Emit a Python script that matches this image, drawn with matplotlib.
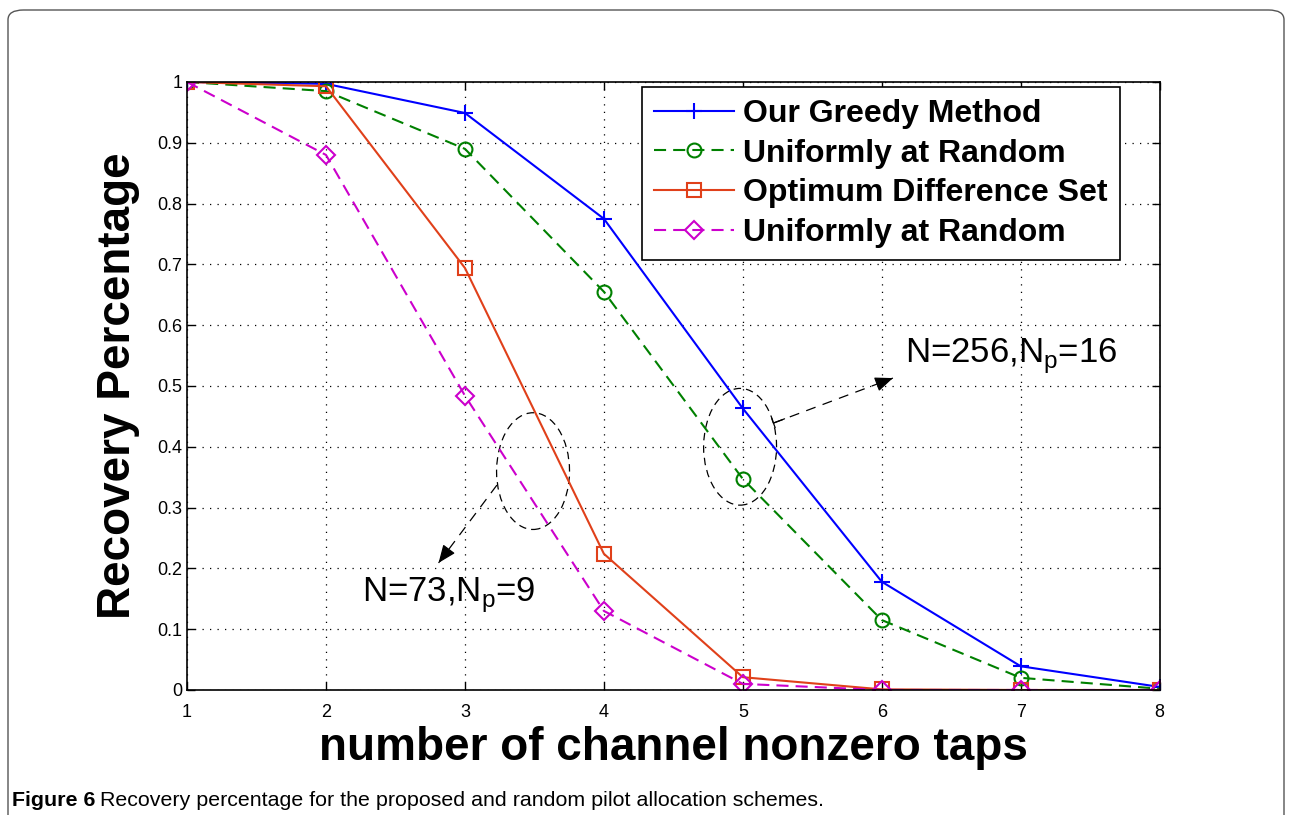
import numpy as np
import matplotlib
matplotlib.use('Agg')
import matplotlib.pyplot as plt
from matplotlib import font_manager
from matplotlib.patches import Ellipse, FancyBboxPatch

# Data
taps = [1, 2, 3, 4, 5, 6, 7, 8]
greedy_256 = [1.0, 0.997, 0.949, 0.775, 0.463, 0.178, 0.039, 0.005]
random_256 = [1.0, 0.985, 0.890, 0.655, 0.347, 0.115, 0.020, 0.002]
diffset_73 = [1.0, 0.993, 0.694, 0.224, 0.021, 0.001, 0.0, 0.0]
random_73 = [1.0, 0.880, 0.484, 0.130, 0.010, 0.0, 0.0, 0.0]

labels = ['Our Greedy Method', 'Uniformly at Random',
          'Optimum Difference Set', 'Uniformly at Random']
yticks = [0, 0.1, 0.2, 0.3, 0.4, 0.5, 0.6, 0.7, 0.8, 0.9, 1]
ytick_labels = ['0', '0.1', '0.2', '0.3', '0.4', '0.5', '0.6', '0.7', '0.8', '0.9', '1']

plt.rcParams['font.family'] = ['Liberation Sans', 'DejaVu Sans']

fig = plt.figure(figsize=(12.9, 8.15), dpi=100)
ax = fig.add_axes([0.145, 0.1534, 0.754, 0.7460])

dash = (5.8, 3.4)
ax.plot(taps, greedy_256, color='#0000ff', lw=1.5, marker='+', ms=12, mew=1.5,
        label=labels[0])
ax.plot(taps, random_256, color='#008000', lw=1.5, ls='--', dashes=dash, marker='o',
        ms=10, mfc='none', mew=1.5, label=labels[1])
ax.plot(taps, diffset_73, color='#e0401a', lw=1.5, marker='s', ms=9.5, mfc='none',
        mew=1.5, label=labels[2])
ax.plot(taps, random_73, color='#cc00cc', lw=1.5, ls='--', dashes=dash, marker='D',
        ms=9, mfc='none', mew=1.5, label=labels[3])

ax.set_xlim(1, 8)
ax.set_ylim(0, 1)
ax.set_xticks(taps)
ax.set_yticks(yticks)
ax.set_yticklabels(ytick_labels)
ax.tick_params(direction='in', top=True, right=True, labelsize=13, length=6, width=1)
ax.tick_params(axis='x', pad=10)
for sp in ax.spines.values():
    sp.set_linewidth(1.2)
ax.grid(True, color='black', linestyle=(0, (1, 5)), linewidth=0.9)

ax.set_xlabel('number of channel nonzero taps', fontsize=33, fontweight='bold',
              labelpad=4)
ax.set_ylabel('Recovery Percentage', fontsize=33, fontweight='bold', labelpad=12)

leg = ax.legend(loc='upper right', bbox_to_anchor=(0.959, 0.992),
                prop={'weight': 'bold', 'size': 23}, frameon=True, fancybox=False,
                edgecolor='black', borderpad=0.38, labelspacing=0.3,
                handlelength=2.5, handletextpad=0.3, borderaxespad=0, framealpha=1)
leg.get_frame().set_linewidth(1.2)

# annotations
ax.add_patch(Ellipse((4.98, 0.40), 0.525, 0.192, fill=False, ls=(0, (6, 4)),
                     lw=0.9, color='black'))
ax.add_patch(Ellipse((3.49, 0.36), 0.525, 0.192, fill=False, ls=(0, (6, 4)),
                     lw=0.9, color='black'))

arrows = [((5.22, 0.439), (6.08, 0.513)), ((3.23, 0.337), (2.81, 0.209))]
for (x0, y0), (x1, y1) in arrows:
    ax.plot([x0, x1], [y0, y1], color='black', lw=0.9, ls=(0, (8, 6)))
    ax.annotate('', xy=(x1, y1), xytext=(x1 - (x1 - x0) * 0.05, y1 - (y1 - y0) * 0.05),
                arrowprops=dict(arrowstyle='-|>,head_length=1.1,head_width=0.45',
                                color='black', lw=0.9, shrinkA=0, shrinkB=0))
# small bar at the tail of the first arrow
ax.annotate('', xy=(5.22, 0.439), xytext=(5.30, 0.446),
            arrowprops=dict(arrowstyle='|-|,widthA=0,widthB=0.35', color='black',
                            lw=0.9, shrinkA=0, shrinkB=0))

ax.text(6.17, 0.548, r'N=256,N$_{\mathregular{p}}$=16', fontsize=25, va='center',
        ha='left')
ax.text(2.26, 0.156, r'N=73,N$_{\mathregular{p}}$=9', fontsize=25, va='center',
        ha='left')

# page frame and caption
frame = FancyBboxPatch((8 / 1290, -0.05), (1284 - 8) / 1290, 1.05 - 10 / 815,
                       boxstyle='round,pad=0,rounding_size=0.012',
                       transform=fig.transFigure, fill=False, edgecolor='#555555',
                       lw=1.0, clip_on=False)
fig.patches.append(frame)

cap_font = ['Liberation Sans Narrow', 'Liberation Sans', 'DejaVu Sans']
try:
    font_manager.findfont('Liberation Sans Narrow', fallback_to_default=False)
    cap_size = 16.5
except Exception:
    cap_size = 15.4
t1 = fig.text(12 / 1290, 1 - 800 / 815, 'Figure 6', fontsize=cap_size,
              fontweight='bold', family=cap_font, va='center', ha='left')
fig.canvas.draw()
bb = t1.get_window_extent()
fig.text((bb.x1 + 5) / 1290, 1 - 800 / 815,
         'Recovery percentage for the proposed and random pilot allocation schemes.',
         fontsize=cap_size, family=cap_font, va='center', ha='left')

fig.savefig('out.png', dpi=100)
